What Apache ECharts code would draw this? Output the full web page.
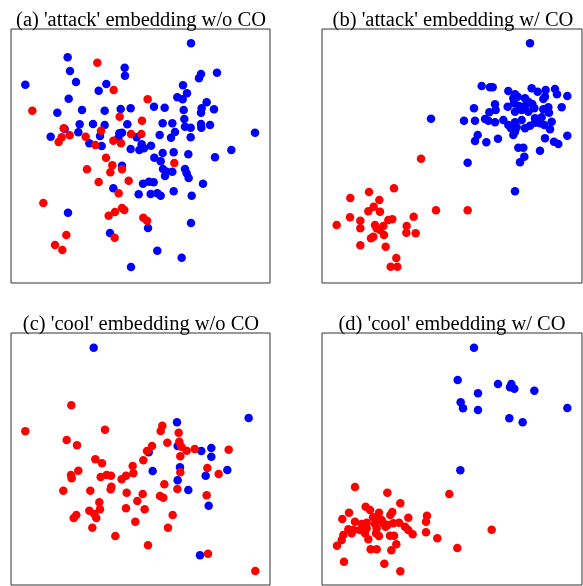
<!DOCTYPE html>
<html>
<head>
<meta charset="utf-8">
<script src="https://cdn.jsdelivr.net/npm/echarts@6/dist/echarts.min.js"></script>
<style>html,body{margin:0;padding:0;background:#fff}#c{width:583px;height:586px}</style>
</head>
<body>
<div id="c"></div>
<script>
// Panel titles
var titles = ["(a) 'attack' embedding w/o CO", "(b) 'attack' embedding w/ CO",
              "(c) 'cool' embedding w/o CO", "(d) 'cool' embedding w/ CO"];

// Embedding coordinates (arbitrary 2-D units, y grows downward)
var aBlue = [[573,130],[203,172],[374,203],[375,227],[210,213],[603,222],[597,235],[651,218],[76,254],[228,246],[319,252],[296,272],[549,256],[561,280],[532,292],[548,298],[206,296],[620,307],[172,338],[246,330],[314,332],[362,327],[392,325],[462,320],[494,323],[551,330],[605,325],[603,338],[642,328],[239,373],[279,372],[314,375],[382,373],[194,387],[235,397],[152,410],[300,408],[358,400],[355,415],[366,398],[488,370],[517,370],[553,357],[555,380],[572,383],[603,372],[604,383],[630,375],[268,430],[305,438],[410,412],[525,396],[479,405],[513,413],[572,412],[765,398],[392,447],[418,450],[425,433],[432,445],[453,437],[694,450],[488,459],[521,457],[463,473],[482,484],[565,463],[645,472],[366,497],[489,507],[500,515],[495,528],[517,515],[555,507],[560,520],[566,534],[429,551],[447,545],[461,547],[609,551],[340,565],[416,583],[452,582],[472,580],[482,587],[521,574],[575,587],[204,638],[573,669],[444,684],[330,699],[472,752],[545,773],[393,801]];
var aRed = [[292,188],[341,270],[443,298],[97,332],[359,350],[426,362],[191,385],[303,392],[209,406],[185,412],[176,426],[257,410],[286,435],[393,402],[424,402],[340,422],[363,430],[318,473],[337,496],[366,508],[331,517],[261,508],[523,489],[296,546],[386,542],[356,580],[130,609],[366,624],[373,630],[345,636],[326,647],[430,653],[441,662],[199,705],[344,713],[165,735],[187,750]];

var bBlue = [[705,130],[560,258],[585,262],[593,262],[640,273],[660,283],[710,265],[728,275],[752,270],[780,267],[786,283],[817,288],[655,295],[668,290],[690,295],[700,305],[745,297],[750,290],[600,313],[638,320],[657,310],[672,318],[690,318],[712,312],[718,325],[537,325],[583,337],[602,330],[660,335],[680,330],[700,335],[745,328],[760,322],[800,322],[408,356],[507,362],[540,362],[570,357],[580,362],[600,367],[625,360],[640,375],[660,367],[680,360],[720,355],[740,352],[735,370],[762,338],[770,365],[648,385],[665,382],[690,385],[705,377],[720,368],[748,375],[765,388],[548,405],[540,423],[574,427],[609,416],[655,405],[660,395],[750,415],[777,425],[790,432],[817,407],[670,443],[685,443],[735,452],[688,470],[675,487],[518,488],[660,574]];
var bRed = [[378,476],[297,565],[222,576],[166,594],[253,600],[236,620],[220,634],[255,635],[165,652],[196,662],[125,675],[196,685],[240,675],[245,685],[255,690],[265,678],[280,660],[292,658],[356,650],[335,678],[334,698],[362,700],[267,705],[228,715],[235,710],[196,736],[272,740],[304,774],[287,800],[307,800],[423,631],[518,631]];

var cBlue = [[281,143],[746,354],[531,367],[533,438],[634,444],[604,453],[634,470],[446,457],[458,513],[540,502],[617,527],[682,510],[533,541],[565,570],[626,617],[600,766]];
var cRed = [[214,316],[76,394],[315,389],[487,377],[482,393],[536,398],[200,420],[231,436],[502,428],[538,425],[544,440],[456,438],[441,453],[560,452],[584,447],[686,449],[541,469],[430,481],[286,478],[306,490],[398,498],[622,504],[235,512],[213,525],[215,535],[302,531],[320,525],[333,527],[365,538],[378,527],[400,520],[541,517],[656,522],[190,572],[271,572],[334,560],[332,568],[380,578],[428,582],[493,553],[532,567],[480,588],[490,593],[620,586],[298,607],[412,603],[268,632],[300,628],[283,642],[229,645],[221,654],[289,654],[378,625],[434,628],[518,645],[406,665],[277,683],[504,683],[346,708],[444,736],[624,761],[766,813]];

var dBlue = [[537,143],[488,240],[609,252],[649,252],[645,262],[658,266],[718,272],[549,280],[497,307],[504,325],[549,330],[817,324],[643,355],[683,367],[496,511]];
var dRed = [[180,561],[277,578],[463,582],[212,620],[225,630],[316,610],[162,638],[142,657],[252,638],[292,636],[286,645],[234,652],[246,660],[260,660],[180,665],[200,672],[215,668],[240,672],[265,670],[278,675],[312,668],[340,653],[396,647],[393,665],[160,688],[176,690],[195,690],[215,685],[245,685],[272,680],[295,670],[330,680],[340,690],[353,703],[393,697],[145,705],[170,700],[210,700],[243,700],[252,708],[285,707],[297,707],[220,718],[140,720],[126,737],[427,715],[304,733],[227,748],[245,748],[289,751],[487,744],[590,689],[147,785],[268,791],[316,814]];

var panels = [
  {blue: aBlue, red: aRed, grid: {left: 11, top: 29, width: 259, height: 254}, x: [33, 810], y: [87, 849], tx: 136, ty: 5},
  {blue: bBlue, red: bRed, grid: {left: 322, top: 29, width: 260, height: 254}, x: [81, 861], y: [87, 849], tx: 448, ty: 5},
  {blue: cBlue, red: cRed, grid: {left: 11, top: 333, width: 259, height: 252}, x: [33, 810], y: [99, 855], tx: 136, ty: 309},
  {blue: dBlue, red: dRed, grid: {left: 322, top: 333, width: 260, height: 252}, x: [81, 861], y: [99, 855], tx: 447, ty: 309}
];

var option = {
  backgroundColor: '#fff',
  animation: false,
  title: [], grid: [], xAxis: [], yAxis: [], series: []
};
panels.forEach(function (p, i) {
  option.title.push({
    text: titles[i], left: p.tx, top: p.ty, textAlign: 'center',
    textStyle: {fontFamily: 'Liberation Serif', fontSize: 20.5, fontWeight: 'normal', color: '#000'}
  });
  option.grid.push(Object.assign({show: true, borderColor: '#333', borderWidth: 1, backgroundColor: 'transparent'}, p.grid));
  option.xAxis.push({gridIndex: i, type: 'value', min: p.x[0], max: p.x[1], show: false});
  option.yAxis.push({gridIndex: i, type: 'value', min: p.y[0], max: p.y[1], inverse: true, show: false});
  option.series.push({type: 'scatter', xAxisIndex: i, yAxisIndex: i, data: p.blue, symbolSize: 8.5, itemStyle: {color: '#0000ff', opacity: 1}});
  option.series.push({type: 'scatter', xAxisIndex: i, yAxisIndex: i, data: p.red, symbolSize: 8.5, itemStyle: {color: '#ff0000', opacity: 1}});
});
echarts.init(document.getElementById('c')).setOption(option);
</script>
</body>
</html>
